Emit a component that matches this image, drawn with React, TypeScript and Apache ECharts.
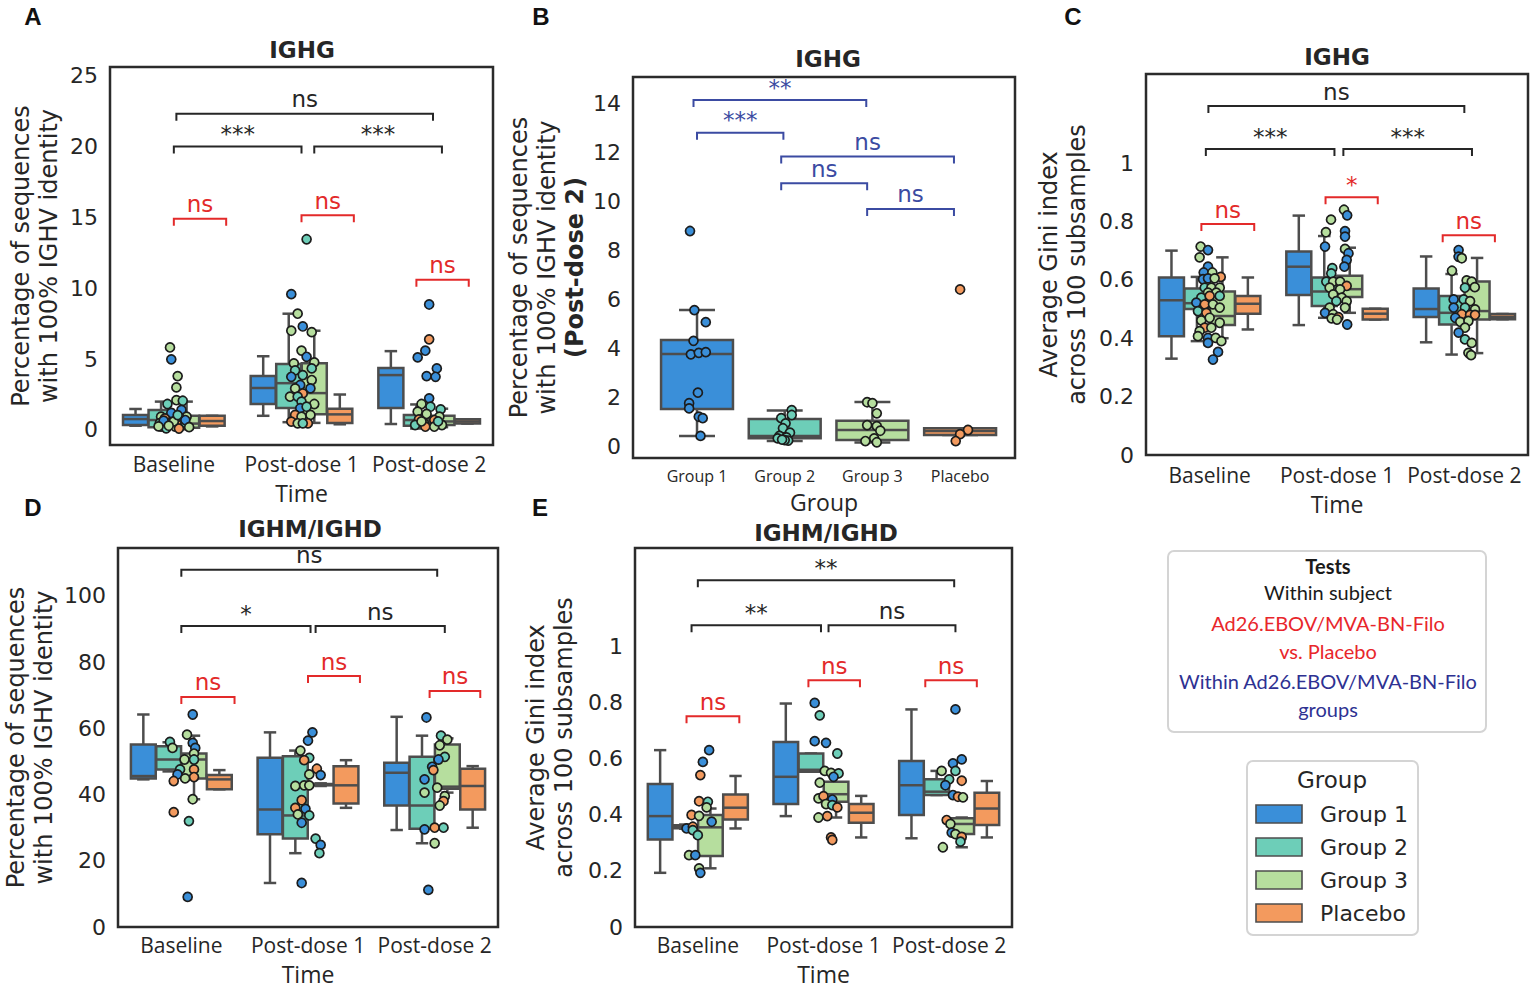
import React, { useEffect, useRef } from "react";
import * as echarts from "echarts";

const FONT = "DejaVu Sans";
const XFONT = "Open Sans";
const TXT = "#262626";
const EDGE = "#4d4d4d";

const TIMES = ["Baseline", "Post-dose 1", "Post-dose 2"];
const GROUPS = ["Group 1", "Group 2", "Group 3", "Placebo"];
const GROUP_COLORS = ["#3a8fd9", "#6dceb8", "#b6de9e", "#f39a5e"];
const SIG_COLORS: Record<string, string> = { k: "#262626", r: "#e32a2a", b: "#3b4ba2" };

// tick labels
const A_TICKS = [0, 5, 10, 15, 20, 25];
const B_TICKS = [0, 2, 4, 6, 8, 10, 12, 14];
const GINI_TICKS = [0, 0.2, 0.4, 0.6, 0.8, 1];
const D_TICKS = [0, 20, 40, 60, 80, 100];

// box stats [time][group] = [min, q1, median, q3, max]
const A_BOX = [
  [[0.3, 0.35, 0.77, 1.06, 1.48], [0.1, 0.2, 0.7, 1.41, 2.0], [0.05, 0.15, 0.45, 1.0, 2.0], [0.25, 0.3, 0.63, 1.0, 1.0]],
  [[1.0, 1.83, 2.96, 3.8, 5.2], [0.55, 1.55, 3.3, 4.65, 8.2], [0.5, 1.1, 2.6, 4.7, 7.0], [0.4, 0.5, 1.1, 1.5, 2.5]],
  [[0.42, 1.55, 3.87, 4.37, 5.56], [0.1, 0.3, 0.7, 1.05, 1.8], [0.2, 0.35, 0.6, 1.0, 1.5], [0.45, 0.45, 0.6, 0.75, 0.75]],
];
// B: [group] = [min, q1, median, q3, max]
const B_BOX = [
  [0.45, 1.54, 3.78, 4.35, 5.57],
  [0.24, 0.35, 0.45, 1.14, 1.48],
  [0.18, 0.28, 0.69, 1.07, 1.83],
  [0.49, 0.49, 0.65, 0.76, 0.76],
];
const C_BOX = [
  [[0.33, 0.407, 0.53, 0.608, 0.7], [0.39, 0.5, 0.52, 0.57, 0.61], [0.4, 0.445, 0.476, 0.56, 0.677], [0.43, 0.484, 0.518, 0.545, 0.608]],
  [[0.445, 0.548, 0.645, 0.697, 0.82], [0.47, 0.51, 0.56, 0.608, 0.75], [0.487, 0.541, 0.568, 0.614, 0.71], [0.464, 0.464, 0.484, 0.501, 0.501]],
  [[0.386, 0.473, 0.5, 0.57, 0.68], [0.344, 0.447, 0.487, 0.545, 0.62], [0.349, 0.464, 0.493, 0.594, 0.675], [0.465, 0.465, 0.473, 0.483, 0.483]],
];
const D_BOX = [
  [[44.6, 44.9, 45.6, 55.1, 64.2], [47.0, 47.6, 50.6, 54.6, 55.8], [38.6, 44.9, 50.6, 52.4, 57.8], [41.6, 41.6, 44.6, 45.9, 47.4]],
  [[13.3, 28.0, 35.5, 51.1, 58.8], [22.3, 26.7, 33.7, 51.6, 53.3], [42.6, 42.8, 43.0, 43.2, 43.4], [36.0, 37.3, 42.8, 48.6, 50.4]],
  [[29.3, 36.7, 46.6, 49.6, 63.5], [25.3, 29.7, 36.7, 51.4, 57.8], [40.6, 41.8, 42.4, 55.1, 57.0], [30.0, 35.5, 42.6, 47.8, 48.6]],
];
const E_BOX = [
  [[0.193, 0.312, 0.395, 0.509, 0.63], [0.35, 0.352, 0.357, 0.362, 0.365], [0.209, 0.253, 0.355, 0.399, 0.422], [0.351, 0.383, 0.425, 0.472, 0.538]],
  [[0.395, 0.438, 0.535, 0.659, 0.796], [0.553, 0.553, 0.56, 0.618, 0.618], [0.39, 0.446, 0.473, 0.517, 0.556], [0.319, 0.371, 0.407, 0.438, 0.467]],
  [[0.316, 0.399, 0.505, 0.591, 0.775], [0.47, 0.47, 0.482, 0.526, 0.556], [0.284, 0.331, 0.367, 0.387, 0.39], [0.319, 0.363, 0.422, 0.478, 0.52]],
];

// points [category, jitter, value, group]
const A_POINTS = [
  [0, -0.03, 5.82, 2], [0, -0.02, 4.98, 0], [0, 0.03, 3.8, 2], [0, 0.02, 3.0, 2], [0, -0.05, 1.83, 1], [0, 0.02, 2.1, 2],
  [0, 0.07, 2.06, 1], [0, 0.06, 1.41, 0], [0, -0.02, 1.2, 0], [0, 0.1, 0.94, 2], [0, -0.1, 0.94, 2], [0, -0.07, 0.82, 3],
  [0, 0.05, 0.84, 2], [0, -0.03, 0.48, 3], [0, -0.11, 0.48, 1], [0, 0.06, 0.35, 3], [0, -0.1, 0.23, 2], [0, 0.01, 0.23, 2],
  [0, -0.06, 0.12, 1], [0, 0.09, 0.48, 1], [0, 0.09, 0.7, 0], [0, -0.08, 0.65, 0], [0, 0.0, 0.6, 2], [0, 0.04, 0.1, 3],
  [0, -0.04, 0.3, 2], [0, 0.12, 0.2, 2], [0, 0.03, 1.05, 1], [0, -0.12, 0.25, 2],
  [1, -0.08, 9.58, 0], [1, -0.03, 8.2, 2], [1, 0.01, 7.3, 0], [1, -0.08, 7.0, 2], [1, 0.08, 6.9, 2], [1, 0.0, 5.6, 2],
  [1, 0.04, 5.16, 0], [1, 0.1, 4.77, 2], [1, -0.06, 4.7, 2], [1, 0.08, 4.34, 1], [1, -0.05, 4.2, 1], [1, 0.01, 3.87, 1],
  [1, -0.08, 3.75, 0], [1, 0.08, 3.52, 2], [1, -0.01, 3.17, 0], [1, 0.07, 2.93, 0], [1, -0.05, 2.93, 2], [1, 0.01, 2.58, 3],
  [1, -0.09, 2.35, 2], [1, -0.03, 2.35, 1], [1, 0.1, 1.83, 2], [1, 0.0, 2.0, 1], [1, -0.01, 1.53, 0], [1, 0.04, 1.64, 1],
  [1, 0.07, 1.06, 2], [1, -0.05, 1.06, 3], [1, 0.0, 0.94, 2], [1, -0.08, 0.59, 3], [1, -0.03, 0.47, 2], [1, 0.05, 0.47, 3],
  [1, 0.01, 0.47, 1], [1, 0.04, 13.45, 1],
  [2, 0.0, 8.85, 0], [2, 0.0, 6.39, 3], [2, -0.03, 5.59, 0], [2, -0.09, 5.12, 0], [2, 0.06, 4.34, 0], [2, -0.02, 3.8, 0],
  [2, 0.05, 3.75, 0], [2, 0.0, 2.23, 0], [2, -0.06, 1.83, 2], [2, 0.01, 1.64, 1], [2, 0.09, 1.45, 1], [2, -0.09, 1.29, 2],
  [2, -0.02, 1.13, 2], [2, 0.08, 0.94, 2], [2, -0.08, 0.75, 3], [2, 0.04, 0.7, 3], [2, -0.04, 0.47, 2], [2, 0.1, 0.35, 2],
  [2, -0.11, 0.35, 1], [2, -0.03, 0.23, 3], [2, 0.04, 0.23, 2], [2, 0.07, 0.6, 1], [2, -0.06, 0.6, 2],
];
const B_POINTS = [
  [0, -0.08, 8.79, 0], [0, -0.03, 5.57, 0], [0, 0.1, 5.08, 0], [0, -0.04, 4.32, 0], [0, -0.07, 3.77, 0], [0, 0.02, 3.83, 0],
  [0, 0.1, 3.86, 0], [0, 0.01, 2.21, 0], [0, -0.09, 1.78, 0], [0, -0.09, 1.57, 0], [0, 0.02, 1.23, 0], [0, 0.065, 1.17, 0],
  [0, 0.04, 0.45, 0],
  [1, 0.08, 1.5, 1], [1, 0.08, 1.3, 1], [1, -0.04, 1.17, 1], [1, 0.01, 0.96, 1], [1, -0.02, 0.76, 1], [1, 0.06, 0.58, 1],
  [1, -0.06, 0.45, 1], [1, 0.02, 0.39, 1], [1, -0.08, 0.35, 1], [1, 0.04, 0.26, 1], [1, 0.0, 0.28, 1], [1, -0.03, 0.3, 1],
  [2, -0.06, 1.82, 2], [2, 0.0, 1.78, 2], [2, 0.05, 1.37, 2], [2, -0.06, 0.89, 2], [2, 0.05, 0.85, 2], [2, 0.09, 0.66, 2],
  [2, 0.02, 0.35, 2], [2, -0.08, 0.24, 2], [2, 0.05, 0.19, 2],
  [3, 0.0, 6.41, 3], [3, 0.09, 0.69, 3], [3, 0.0, 0.52, 3], [3, -0.05, 0.24, 3],
];
const C_POINTS = [
  [0, -0.071, 0.714, 2], [0, -0.013, 0.702, 0], [0, -0.079, 0.677, 2], [0, -0.013, 0.645, 0], [0, -0.047, 0.625, 0],
  [0, 0.021, 0.625, 2], [0, 0.087, 0.61, 3], [0, -0.052, 0.602, 0], [0, -0.013, 0.605, 0], [0, 0.039, 0.605, 2],
  [0, -0.039, 0.573, 1], [0, 0.013, 0.573, 2], [0, 0.079, 0.573, 2], [0, -0.013, 0.556, 2], [0, 0.052, 0.556, 2],
  [0, -0.066, 0.539, 1], [0, 0.0, 0.545, 3], [0, 0.079, 0.545, 1], [0, -0.105, 0.522, 0], [0, -0.039, 0.516, 3],
  [0, 0.026, 0.516, 2], [0, 0.079, 0.505, 2], [0, -0.092, 0.493, 1], [0, -0.026, 0.487, 3], [0, -0.066, 0.461, 2],
  [0, 0.0, 0.47, 2], [0, 0.079, 0.453, 2], [0, -0.039, 0.436, 3], [0, -0.079, 0.424, 2], [0, 0.013, 0.436, 2],
  [0, -0.092, 0.407, 2], [0, -0.013, 0.401, 0], [0, 0.047, 0.401, 2], [0, 0.092, 0.39, 2], [0, -0.013, 0.384, 0],
  [0, 0.066, 0.353, 0], [0, 0.026, 0.327, 0],
  [1, 0.055, 0.84, 2], [1, 0.08, 0.821, 0], [1, -0.047, 0.806, 2], [1, -0.087, 0.763, 2], [1, 0.063, 0.767, 0],
  [1, 0.063, 0.748, 0], [1, -0.094, 0.714, 0], [1, 0.063, 0.706, 2], [1, 0.09, 0.691, 0], [1, 0.076, 0.668, 0],
  [1, 0.058, 0.645, 0], [1, -0.037, 0.64, 1], [1, -0.045, 0.622, 1], [1, -0.084, 0.594, 1], [1, -0.03, 0.594, 2],
  [1, 0.024, 0.594, 2], [1, 0.076, 0.579, 3], [1, -0.058, 0.573, 2], [1, 0.024, 0.567, 2], [1, -0.03, 0.55, 2],
  [1, 0.037, 0.539, 2], [1, 0.076, 0.527, 2], [1, -0.005, 0.527, 1], [1, -0.058, 0.505, 2], [1, 0.063, 0.505, 2],
  [1, -0.094, 0.487, 0], [1, -0.03, 0.482, 2], [1, 0.011, 0.472, 3], [1, -0.042, 0.468, 2], [1, 0.0, 0.464, 2],
  [1, 0.08, 0.447, 0],
  [2, -0.045, 0.702, 0], [2, -0.045, 0.679, 0], [2, -0.02, 0.674, 2], [2, -0.097, 0.631, 2], [2, 0.018, 0.598, 2],
  [2, 0.058, 0.594, 2], [2, 0.005, 0.573, 1], [2, 0.082, 0.575, 2], [2, -0.084, 0.533, 0], [2, -0.005, 0.533, 1],
  [2, 0.045, 0.527, 2], [2, -0.084, 0.505, 0], [2, 0.005, 0.505, 1], [2, 0.084, 0.499, 2], [2, -0.02, 0.482, 3],
  [2, 0.045, 0.48, 3], [2, -0.071, 0.47, 0], [2, 0.084, 0.48, 3], [2, -0.032, 0.456, 2], [2, 0.032, 0.459, 2],
  [2, 0.005, 0.436, 2], [2, -0.045, 0.419, 0], [2, 0.005, 0.396, 1], [2, 0.058, 0.384, 2], [2, 0.032, 0.35, 2],
  [2, 0.053, 0.342, 2],
];
const D_POINTS = [
  [0, 0.09, 64.2, 0], [0, -0.09, 55.9, 1], [0, -0.07, 54.1, 2], [0, 0.045, 58.1, 2], [0, 0.09, 55.6, 0], [0, 0.11, 54.1, 0],
  [0, 0.1, 52.4, 2], [0, 0.025, 50.6, 2], [0, 0.1, 50.6, 1], [0, -0.01, 47.6, 1], [0, 0.1, 47.6, 3], [0, -0.03, 46.1, 0],
  [0, 0.1, 45.3, 3], [0, 0.03, 44.9, 2], [0, -0.06, 44.1, 3], [0, 0.09, 38.6, 2], [0, -0.06, 34.7, 3], [0, 0.06, 32.0, 1],
  [0, 0.05, 9.1, 0],
  [1, 0.035, 58.8, 0], [1, 0.0, 56.3, 0], [1, -0.06, 53.3, 2], [1, 0.01, 51.1, 1], [1, -0.03, 50.4, 3], [1, 0.07, 47.8, 3],
  [1, 0.1, 45.9, 0], [1, 0.01, 46.1, 2], [1, -0.1, 42.6, 2], [1, -0.03, 42.8, 2], [1, 0.01, 42.8, 2], [1, -0.05, 38.3, 3],
  [1, -0.1, 36.0, 3], [1, -0.02, 35.7, 0], [1, -0.08, 34.0, 2], [1, 0.01, 33.7, 1], [1, -0.05, 31.5, 0], [1, 0.06, 26.7, 1],
  [1, 0.1, 24.8, 0], [1, 0.09, 22.3, 1], [1, -0.05, 13.3, 0],
  [2, -0.065, 63.3, 0], [2, 0.05, 57.8, 1], [2, 0.1, 56.6, 2], [2, 0.04, 54.9, 2], [2, 0.08, 51.4, 1], [2, 0.03, 50.6, 0],
  [2, -0.02, 48.4, 0], [2, -0.01, 47.4, 3], [2, -0.08, 44.6, 0], [2, 0.02, 42.1, 2], [2, -0.08, 40.6, 2], [2, 0.08, 39.5, 2],
  [2, 0.07, 38.0, 3], [2, 0.04, 36.7, 2], [2, -0.08, 29.5, 0], [2, 0.0, 30.0, 3], [2, 0.07, 30.0, 1], [2, 0.0, 25.3, 2],
  [2, -0.05, 11.2, 0],
];
const E_POINTS = [
  [0, 0.09, 0.63, 0], [0, 0.04, 0.588, 0], [0, 0.02, 0.541, 3], [0, 0.01, 0.448, 3], [0, 0.08, 0.446, 1], [0, 0.07, 0.426, 2],
  [0, -0.05, 0.399, 3], [0, 0.01, 0.396, 2], [0, 0.11, 0.375, 0], [0, -0.09, 0.351, 0], [0, -0.04, 0.357, 3], [0, -0.04, 0.345, 1],
  [0, 0.0, 0.327, 1], [0, -0.07, 0.256, 2], [0, -0.02, 0.256, 0], [0, 0.01, 0.209, 2], [0, 0.02, 0.193, 0],
  [1, -0.07, 0.798, 0], [1, -0.03, 0.754, 1], [1, -0.07, 0.662, 0], [1, 0.02, 0.656, 0], [1, 0.11, 0.618, 1], [1, 0.01, 0.556, 2],
  [1, 0.06, 0.549, 2], [1, 0.12, 0.547, 1], [1, 0.08, 0.535, 0], [1, -0.03, 0.514, 2], [1, -0.04, 0.458, 2], [1, 0.0, 0.466, 3],
  [1, 0.07, 0.454, 0], [1, 0.02, 0.438, 2], [1, 0.07, 0.434, 1], [1, 0.11, 0.426, 3], [1, -0.04, 0.39, 2], [1, 0.03, 0.395, 3],
  [1, 0.06, 0.319, 3], [1, 0.07, 0.31, 3],
  [2, 0.05, 0.775, 0], [2, 0.1, 0.597, 0], [2, 0.03, 0.583, 0], [2, -0.06, 0.556, 2], [2, 0.05, 0.556, 1], [2, 0.0, 0.526, 1],
  [2, 0.1, 0.521, 3], [2, -0.03, 0.505, 0], [2, 0.03, 0.47, 0], [2, 0.07, 0.464, 3], [2, 0.11, 0.462, 2], [2, -0.02, 0.381, 3],
  [2, 0.01, 0.367, 2], [2, 0.02, 0.336, 0], [2, 0.05, 0.331, 2], [2, 0.1, 0.321, 3], [2, 0.09, 0.304, 1], [2, -0.05, 0.284, 2],
];

// significance brackets [x1, x2, y, label, colour]
const A_SIG: any[] = [
  [0.02, 2.03, 22.3, "ns", "k"], [0.0, 1.0, 20.0, "***", "k"], [1.1, 2.1, 20.0, "***", "k"],
  [0.0, 0.41, 14.9, "ns", "r"], [1.0, 1.41, 15.15, "ns", "r"], [1.9, 2.31, 10.6, "ns", "r"],
];
const B_SIG: any[] = [
  [-0.04, 1.93, 14.12, "**", "b"], [0.0, 0.985, 12.79, "***", "b"], [0.96, 2.93, 11.82, "ns", "b"],
  [0.96, 1.94, 10.73, "ns", "b"], [1.94, 2.93, 9.69, "ns", "b"],
];
const C_SIG: any[] = [
  [-0.01, 2.0, 1.195, "ns", "k"], [-0.03, 0.98, 1.048, "***", "k"], [1.05, 2.06, 1.048, "***", "k"],
  [-0.065, 0.35, 0.791, "ns", "r"], [0.91, 1.32, 0.883, "*", "r"], [1.83, 2.24, 0.753, "ns", "r"],
];
const D_SIG: any[] = [
  [0.0, 2.02, 107.9, "ns", "k"], [0.0, 1.02, 90.9, "*", "k"], [1.06, 2.08, 90.9, "ns", "k"],
  [0.0, 0.42, 69.5, "ns", "r"], [1.0, 1.41, 75.8, "ns", "r"], [1.96, 2.36, 71.3, "ns", "r"],
];
const E_SIG: any[] = [
  [0.0, 2.04, 1.235, "**", "k"], [-0.05, 0.98, 1.075, "**", "k"], [1.04, 2.05, 1.075, "ns", "k"],
  [-0.09, 0.33, 0.751, "ns", "r"], [0.88, 1.29, 0.879, "ns", "r"], [1.81, 2.22, 0.879, "ns", "r"],
];

const TESTS_LINES = [
  ["Tests", "k", true], ["Within subject", "k", false], ["Ad26.EBOV/MVA-BN-Filo", "r", false],
  ["vs. Placebo", "r", false], ["Within Ad26.EBOV/MVA-BN-Filo", "t", false], ["groups", "t", false],
];

function groupedBoxes(stats: number[][][]) {
  const out: number[][] = [];
  stats.forEach((row, t) => row.forEach((s, g) => out.push([t + (g - 1.5) * 0.2, 0.098, ...s, g])));
  return out;
}

function makePanel(i: number, cfg: any) {
  const grid = { ...cfg.grid, show: true, borderColor: "#2b2b2b", borderWidth: 2.5, backgroundColor: "transparent" };
  const xAxis = {
    type: "value", gridIndex: i, min: cfg.xMin, max: cfg.xMax,
    axisLine: { show: false }, axisTick: { show: false }, splitLine: { show: false },
    axisLabel: {
      customValues: cfg.xLabels.map((_: any, k: number) => k),
      formatter: (v: number) => cfg.xLabels[Math.round(v)] ?? "",
      fontSize: cfg.xLabelSize, color: TXT, fontFamily: XFONT, margin: cfg.xMargin,
      hideOverlap: false, showMinLabel: true, showMaxLabel: true,
    },
    name: cfg.xName, nameLocation: "middle", nameGap: cfg.xNameGap,
    nameTextStyle: { fontSize: 23, color: TXT, fontFamily: XFONT },
  };
  const yAxis = {
    type: "value", gridIndex: i, min: cfg.yMin, max: cfg.yMax,
    axisLine: { show: false }, axisTick: { show: false }, splitLine: { show: false },
    axisLabel: {
      customValues: cfg.yTicks, formatter: (v: number) => String(v),
      fontSize: 22, color: TXT, fontFamily: FONT, margin: 12,
    },
    name: cfg.yName, nameLocation: "middle", nameGap: cfg.yNameGap,
    nameTextStyle: {
      fontSize: 24, color: TXT, fontFamily: FONT, lineHeight: 28,
      rich: {
        a: { fontSize: 24, color: TXT, fontFamily: FONT, lineHeight: 28 },
        b: { fontSize: 24, color: TXT, fontFamily: FONT, lineHeight: 28, fontWeight: "bold" },
      },
    },
  };
  const boxSeries = {
    type: "custom", xAxisIndex: i, yAxisIndex: i, clip: false,
    data: cfg.boxes, encode: { x: 0, y: 4 },
    renderItem: (params: any, api: any) => {
      const xc = api.value(0), hw = api.value(1);
      const g = api.value(7);
      const tl = api.coord([xc - hw, api.value(5)]);
      const br = api.coord([xc + hw, api.value(3)]);
      const md = api.coord([xc, api.value(4)]);
      const mn = api.coord([xc, api.value(2)]);
      const mx = api.coord([xc, api.value(6)]);
      const cap = (br[0] - tl[0]) / 4;
      const ls = { stroke: EDGE, lineWidth: 2.5 };
      return {
        type: "group",
        children: [
          { type: "line", shape: { x1: md[0], y1: mx[1], x2: md[0], y2: tl[1] }, style: ls },
          { type: "line", shape: { x1: md[0], y1: br[1], x2: md[0], y2: mn[1] }, style: ls },
          { type: "line", shape: { x1: md[0] - cap, y1: mx[1], x2: md[0] + cap, y2: mx[1] }, style: ls },
          { type: "line", shape: { x1: md[0] - cap, y1: mn[1], x2: md[0] + cap, y2: mn[1] }, style: ls },
          {
            type: "rect", shape: { x: tl[0], y: tl[1], width: br[0] - tl[0], height: Math.max(br[1] - tl[1], 0.5) },
            style: { fill: GROUP_COLORS[g], stroke: EDGE, lineWidth: 2.5 },
          },
          { type: "line", shape: { x1: tl[0], y1: md[1], x2: br[0], y2: md[1] }, style: ls },
        ],
      };
    },
  };
  const scatter = {
    type: "scatter", xAxisIndex: i, yAxisIndex: i, symbolSize: 9,
    data: cfg.points.map((p: number[]) => ({
      value: [p[0] + p[1], p[2]],
      itemStyle: { color: GROUP_COLORS[p[3]], borderColor: "#1c1c1c", borderWidth: 1.7, opacity: 1 },
    })),
  };
  const sig = cfg.sig;
  const sigSeries = {
    type: "custom", xAxisIndex: i, yAxisIndex: i, clip: false,
    data: sig.map((s: any[]) => [s[0], s[1], s[2]]), encode: { x: [0, 1], y: 2 },
    renderItem: (params: any, api: any) => {
      const s = sig[params.dataIndex];
      const p1 = api.coord([s[0], s[2]]);
      const p2 = api.coord([s[1], s[2]]);
      const color = SIG_COLORS[s[4]];
      const star = s[3].indexOf("*") >= 0;
      return {
        type: "group",
        children: [
          {
            type: "polyline",
            shape: { points: [[p1[0], p1[1] + 7], [p1[0], p1[1]], [p2[0], p2[1]], [p2[0], p2[1] + 7]] },
            style: { stroke: color, fill: "none", lineWidth: 2 },
          },
          {
            type: "text", x: (p1[0] + p2[0]) / 2, y: p1[1] - (star ? 1 : 3),
            style: { text: s[3], fill: color, fontSize: 23, fontFamily: FONT, align: "center", verticalAlign: "bottom" },
          },
        ],
      };
    },
  };
  return { grid, xAxis, yAxis, series: [boxSeries, scatter, sigSeries] };
}

export default function App() {
  const ref = useRef<HTMLDivElement>(null);
  useEffect(() => {
    if (!ref.current) return;
    const chart = echarts.init(ref.current, undefined, { renderer: "svg" });
    const yPct = "Percentage of sequences\nwith 100% IGHV identity";
    const yGini = "Average Gini index\nacross 100 subsamples";
    const panels = [
      makePanel(0, {
        grid: { left: 110, top: 67, width: 383, height: 378 }, xMin: -0.5, xMax: 2.5, yMin: -1.06, yMax: 25.6,
        yTicks: A_TICKS, xLabels: TIMES, xLabelSize: 21, xMargin: 8, xName: "Time", xNameGap: 36,
        yName: yPct, yNameGap: 47, boxes: groupedBoxes(A_BOX), points: A_POINTS, sig: A_SIG,
      }),
      makePanel(1, {
        grid: { left: 633, top: 77, width: 382, height: 381 }, xMin: -0.73, xMax: 3.626, yMin: -0.45, yMax: 15.06,
        yTicks: B_TICKS, xLabels: GROUPS, xLabelSize: 16, xMargin: 10, xName: "Group", xNameGap: 32,
        yName: "{a|Percentage of sequences}\n{a|with 100% IGHV identity}\n{b|(Post-dose 2)}", yNameGap: 44,
        boxes: B_BOX.map((s, g) => [g, 0.41, ...s, g]), points: B_POINTS, sig: B_SIG,
      }),
      makePanel(2, {
        grid: { left: 1146, top: 74, width: 382, height: 381 }, xMin: -0.5, xMax: 2.5, yMin: 0, yMax: 1.305,
        yTicks: GINI_TICKS, xLabels: TIMES, xLabelSize: 21, xMargin: 9, xName: "Time", xNameGap: 37,
        yName: yGini, yNameGap: 55, boxes: groupedBoxes(C_BOX), points: C_POINTS, sig: C_SIG,
      }),
      makePanel(3, {
        grid: { left: 118, top: 548, width: 380, height: 379 }, xMin: -0.5, xMax: 2.5, yMin: 0, yMax: 114.5,
        yTicks: D_TICKS, xLabels: TIMES, xLabelSize: 21, xMargin: 7, xName: "Time", xNameGap: 35,
        yName: yPct, yNameGap: 60, boxes: groupedBoxes(D_BOX), points: D_POINTS, sig: D_SIG,
      }),
      makePanel(4, {
        grid: { left: 635, top: 548, width: 377, height: 379 }, xMin: -0.5, xMax: 2.5, yMin: 0, yMax: 1.35,
        yTicks: GINI_TICKS, xLabels: TIMES, xLabelSize: 21, xMargin: 7, xName: "Time", xNameGap: 35,
        yName: yGini, yNameGap: 57, boxes: groupedBoxes(E_BOX), points: E_POINTS, sig: E_SIG,
      }),
    ];

    const letters = [["A", 33, 16], ["B", 541, 16], ["C", 1073, 16], ["D", 33, 507], ["E", 540, 507]];
    const titles = [["IGHG", 302, 50], ["IGHG", 828, 59], ["IGHG", 1337, 57], ["IGHM/IGHD", 310, 529], ["IGHM/IGHD", 826, 533]];
    const graphic: any[] = [];
    letters.forEach(([t, x, y]) =>
      graphic.push({ type: "text", x, y, style: { text: t, fontSize: 24, fontWeight: "bold", fontFamily: "Liberation Sans", fill: "#111", align: "center", verticalAlign: "middle" } })
    );
    titles.forEach(([t, x, y]) =>
      graphic.push({ type: "text", x, y, style: { text: t, fontSize: 23, fontWeight: "bold", fontFamily: FONT, fill: TXT, align: "center", verticalAlign: "middle" } })
    );
    // Tests box
    graphic.push({ type: "rect", shape: { x: 1168, y: 551, width: 318, height: 181, r: 6 }, style: { fill: "#fff", stroke: "#d4d4d4", lineWidth: 2 } });
    const testColors: Record<string, string> = { k: "#1a1a1a", r: "#e8262b", t: "#2e3192" };
    const testY = [566, 592, 623, 651, 681, 709];
    TESTS_LINES.forEach(([t, c, b], k) =>
      graphic.push({
        type: "text", x: 1328, y: testY[k],
        style: { text: t, fontSize: 20, fontWeight: b ? "bold" : "normal", fontFamily: "Lato", fill: testColors[c as string], align: "center", verticalAlign: "middle" },
      })
    );
    // Group legend
    graphic.push({ type: "rect", shape: { x: 1247, y: 761, width: 171, height: 174, r: 6 }, style: { fill: "#fff", stroke: "#d4d4d4", lineWidth: 2 } });
    graphic.push({ type: "text", x: 1332, y: 780, style: { text: "Group", fontSize: 23, fontFamily: FONT, fill: TXT, align: "center", verticalAlign: "middle" } });
    GROUPS.forEach((g, k) => {
      const yc = 814 + k * 33;
      graphic.push({ type: "rect", shape: { x: 1256, y: yc - 9, width: 46, height: 18 }, style: { fill: GROUP_COLORS[k], stroke: EDGE, lineWidth: 1.6 } });
      graphic.push({ type: "text", x: 1320, y: yc, style: { text: g, fontSize: 22, fontFamily: FONT, fill: TXT, align: "left", verticalAlign: "middle" } });
    });

    chart.setOption({
      animation: false,
      backgroundColor: "#fff",
      grid: panels.map((p) => p.grid),
      xAxis: panels.map((p) => p.xAxis),
      yAxis: panels.map((p) => p.yAxis),
      series: panels.flatMap((p) => p.series),
      graphic,
    });
    return () => chart.dispose();
  }, []);
  return <div ref={ref} style={{ position: "absolute", left: 0, top: 0, width: 1535, height: 990 }} />;
}
